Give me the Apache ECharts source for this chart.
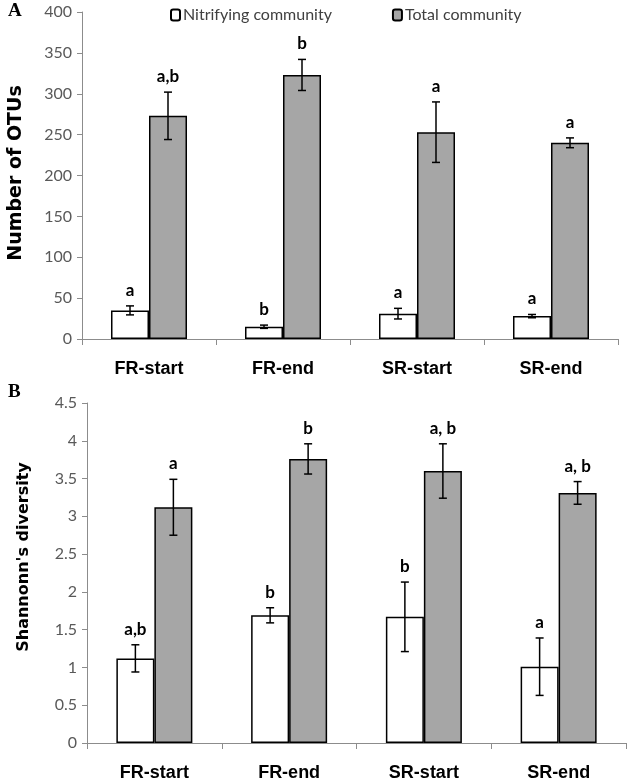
<!DOCTYPE html>
<html>
<head>
<meta charset="utf-8">
<script src="https://cdn.jsdelivr.net/npm/echarts@6/dist/echarts.min.js"></script>
<style>
html,body{margin:0;padding:0;background:#fff;}
#chart{width:629px;height:782px;}
</style>
</head>
<body>
<div id="chart"></div>
<script>
const categories = ['FR-start', 'FR-end', 'SR-start', 'SR-end'];
const seriesNames = ['Nitrifying community', 'Total community'];

// Panel A: Number of OTUs
const otuNitrifying = [35, 15, 31, 28];
const otuNitrifyingErr = [5.5, 2, 6.5, 2];
const otuNitrifyingLetters = ['a', 'b', 'a', 'a'];
const otuTotal = [273, 323, 253, 240];
const otuTotalErr = [29, 19, 37, 6];
const otuTotalLetters = ['a,b', 'b', 'a', 'a'];
const otuTicks = [0, 50, 100, 150, 200, 250, 300, 350, 400];

// Panel B: Shannon diversity
const shNitrifying = [1.12, 1.69, 1.67, 1.01];
const shNitrifyingErr = [0.18, 0.10, 0.46, 0.38];
const shNitrifyingLetters = ['a,b', 'b', 'b', 'a'];
const shTotal = [3.12, 3.76, 3.60, 3.31];
const shTotalErr = [0.37, 0.20, 0.36, 0.15];
const shTotalLetters = ['a', 'b', 'a, b', 'a, b'];
const shTicks = [0, 0.5, 1, 1.5, 2, 2.5, 3, 3.5, 4, 4.5];

const BAR_W = 38;
const tickFont = 'Lato';
const boldFont = '"Liberation Sans", Arial, sans-serif';

function errSeries(vals, errs, letters, side, xi, yi) {
  return {
    type: 'custom',
    xAxisIndex: xi, yAxisIndex: yi,
    silent: true,
    z: 10,
    data: vals.map((v, i) => [i, v, errs[i]]),
    renderItem: function (params, api) {
      const i = api.value(0), v = api.value(1), e = api.value(2);
      const c = api.coord([i, v]);
      const x = c[0] + side * BAR_W / 2;
      const top = api.coord([i, v + e])[1];
      const bot = api.coord([i, v - e])[1];
      const cap = 4;
      const st = {stroke: '#000', lineWidth: 1.5};
      return {
        type: 'group',
        children: [
          {type: 'line', shape: {x1: x, y1: top, x2: x, y2: bot}, style: st},
          {type: 'line', shape: {x1: x - cap, y1: top, x2: x + cap, y2: top}, style: st},
          {type: 'line', shape: {x1: x - cap, y1: bot, x2: x + cap, y2: bot}, style: st},
          {type: 'text', style: {
            text: letters[params.dataIndex], x: x, y: top - 7,
            align: 'center', verticalAlign: 'bottom',
            fontFamily: tickFont, fontWeight: 'bold', fontSize: 17, fill: '#000'
          }}
        ]
      };
    }
  };
}

function xAx(gi) {
  return {
    type: 'category', gridIndex: gi, data: categories,
    boundaryGap: true,
    axisLine: {show: true, lineStyle: {color: '#8c8c8c', width: 1}},
    axisTick: {show: true, interval: 0, length: 6, lineStyle: {color: '#8c8c8c'}},
    axisLabel: {interval: 0, margin: 21, color: '#000', fontFamily: boldFont, fontWeight: 'bold', fontSize: 18}
  };
}
function yAx(gi, ticks) {
  return {
    type: 'value', gridIndex: gi,
    min: ticks[0], max: ticks[ticks.length - 1], interval: ticks[1] - ticks[0],
    axisLine: {show: true, lineStyle: {color: '#8c8c8c', width: 1}},
    axisTick: {show: true, length: 5, lineStyle: {color: '#8c8c8c'}},
    splitLine: {show: false},
    axisLabel: {margin: 10, color: '#595959', fontFamily: tickFont, fontSize: 16}
  };
}
function barSeries(name, vals, color, xi, yi) {
  return {
    name: name, type: 'bar', xAxisIndex: xi, yAxisIndex: yi,
    data: vals, barWidth: BAR_W, barGap: '0%',
    itemStyle: {color: color, borderColor: '#000', borderWidth: 1.5},
    emphasis: {disabled: true}
  };
}

const chart = echarts.init(document.getElementById('chart'), null, {renderer: 'canvas'});
chart.setOption({
  animation: false,
  backgroundColor: '#fff',
  legend: {
    data: seriesNames,
    left: 165, top: 2,
    itemWidth: 9, itemHeight: 11, itemGap: 60,
    textStyle: {fontFamily: tickFont, fontSize: 16, color: '#404040', padding: [0, 0, 0, -2]},
    selectedMode: false
  },
  grid: [
    {left: 82, top: 12, width: 536, height: 327},
    {left: 87, top: 403, width: 539, height: 341}
  ],
  xAxis: [xAx(0), xAx(1)],
  yAxis: [yAx(0, otuTicks), yAx(1, shTicks)],
  series: [
    barSeries(seriesNames[0], otuNitrifying, '#ffffff', 0, 0),
    barSeries(seriesNames[1], otuTotal, '#a6a6a6', 0, 0),
    barSeries(seriesNames[0], shNitrifying, '#ffffff', 1, 1),
    barSeries(seriesNames[1], shTotal, '#a6a6a6', 1, 1),
    errSeries(otuNitrifying, otuNitrifyingErr, otuNitrifyingLetters, -1, 0, 0),
    errSeries(otuTotal, otuTotalErr, otuTotalLetters, 1, 0, 0),
    errSeries(shNitrifying, shNitrifyingErr, shNitrifyingLetters, -1, 1, 1),
    errSeries(shTotal, shTotalErr, shTotalLetters, 1, 1, 1)
  ],
  graphic: [
    {type: 'text', left: 8, top: 2, style: {text: 'A', fontFamily: '"Liberation Serif", serif', fontWeight: 'bold', fontSize: 19, fill: '#000'}},
    {type: 'text', left: 8, top: 383, style: {text: 'B', fontFamily: '"Liberation Serif", serif', fontWeight: 'bold', fontSize: 19, fill: '#000'}},
    {type: 'text', x: 16, y: 173, rotation: Math.PI / 2,
      style: {text: 'Number of OTUs', align: 'center', verticalAlign: 'middle', fontFamily: '"DejaVu Sans", sans-serif', fontWeight: 'bold', fontSize: 19, fill: '#000'}},
    {type: 'text', x: 24, y: 557, rotation: Math.PI / 2,
      style: {text: "Shannonn's diversity", align: 'center', verticalAlign: 'middle', fontFamily: '"DejaVu Sans", sans-serif', fontWeight: 'bold', fontSize: 16, fill: '#000'}}
  ]
});
</script>
</body>
</html>
